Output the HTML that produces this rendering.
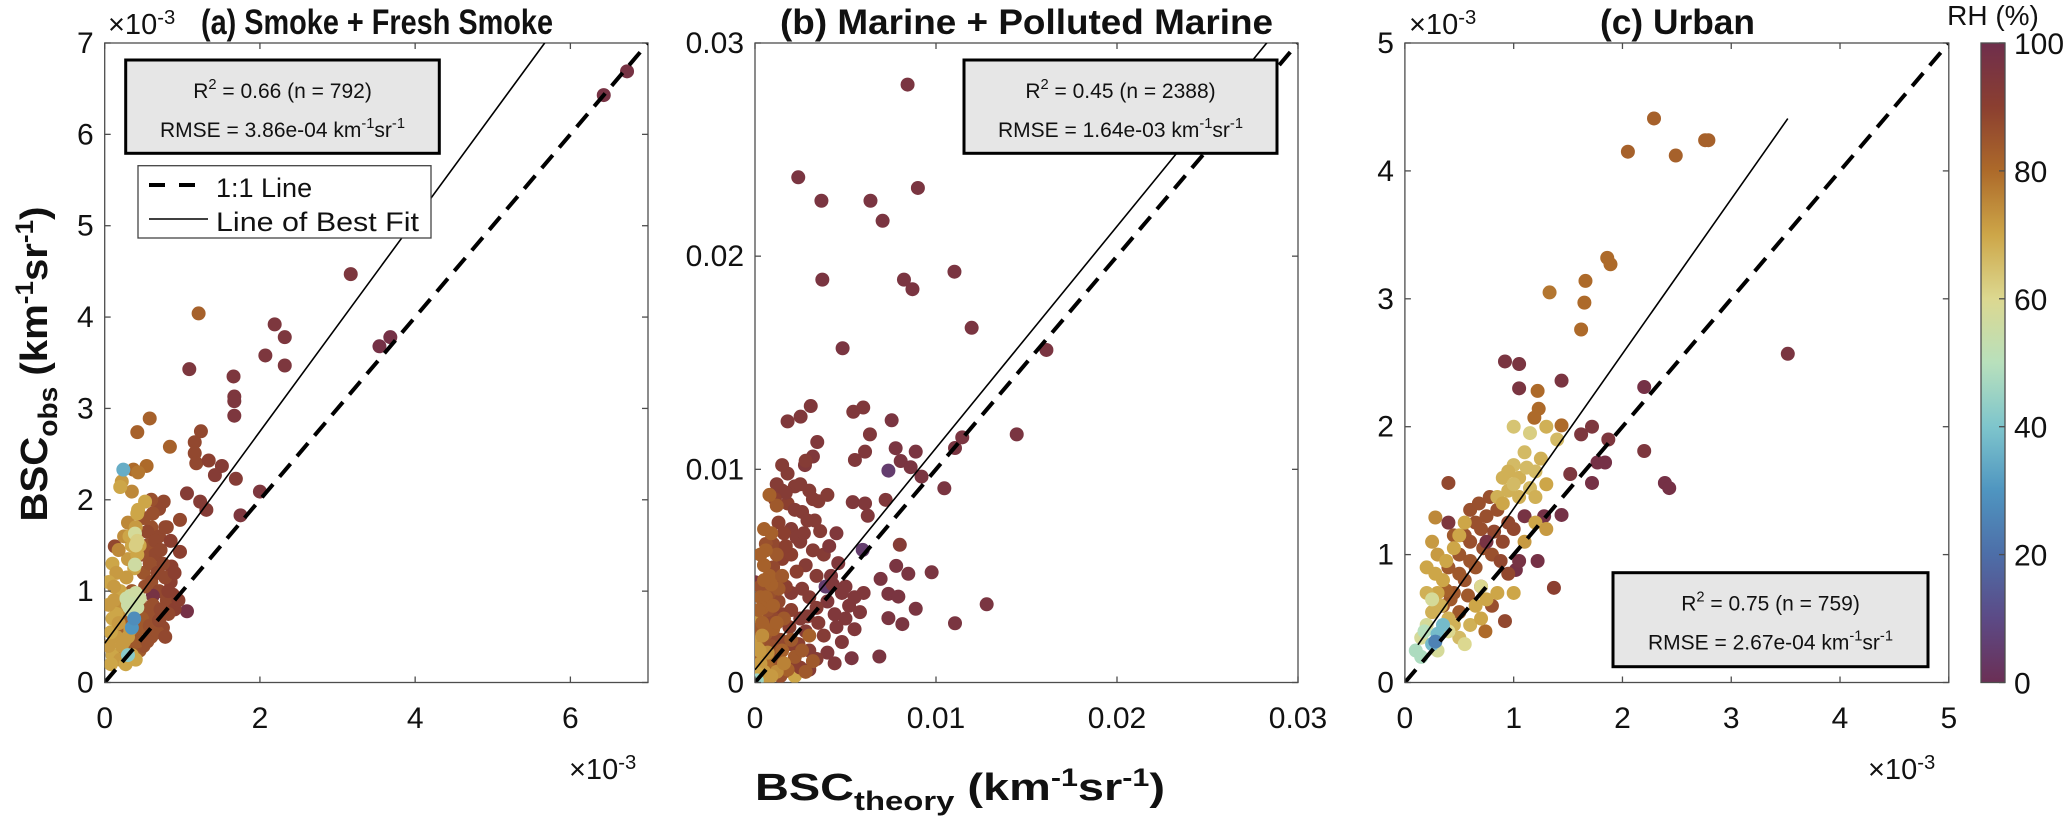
<!DOCTYPE html>
<html><head><meta charset="utf-8"><style>
html,body{margin:0;padding:0;background:#fff}
svg{display:block}
text{font-family:"Liberation Sans",sans-serif;fill:#111}
</style></head><body>
<svg id="fig" width="2067" height="820" xmlns="http://www.w3.org/2000/svg">
<defs>
<clipPath id="clipA"><rect x="104.7" y="43" width="543.3" height="639.5"/></clipPath>
<clipPath id="clipB"><rect x="755" y="43" width="543" height="639.5"/></clipPath>
<clipPath id="clipC"><rect x="1404.9" y="43" width="543.9" height="639.5"/></clipPath>
<linearGradient id="cbar" x1="0" y1="1" x2="0" y2="0"></linearGradient>
</defs>
<g id="layer"></g>
</svg>
<script>
// ---- data (x, y in units of 1e-3 km^-1 sr^-1, RH in %) ----
const smokePoints = [
[6.43,6.43,97],[6.73,6.69,97],[3.17,4.47,95],[1.21,4.04,82],[2.19,3.92,95],[2.32,3.78,95],[2.07,3.58,95],[2.32,3.47,95],
[3.54,3.68,98],[3.68,3.78,98],[1.09,3.43,95],[1.66,3.35,95],[1.67,3.13,95],[1.67,3.08,95],[1.67,2.92,95],
[0.58,2.89,82],[0.42,2.74,82],[1.24,2.75,88],[0.84,2.58,82],[1.16,2.63,88],[1.16,2.51,88],[1.18,2.40,88],
[1.34,2.43,90],[1.51,2.37,92],[1.42,2.27,92],[1.69,2.23,92],[0.37,2.33,80],[0.54,2.37,80],[0.43,2.30,78],
[2.00,2.09,95],[1.75,1.83,95],[0.13,1.49,88],[0.76,1.98,88],[0.97,1.78,88],[1.06,2.07,92],[1.23,1.98,92],
[1.31,1.89,92],[1.06,0.78,98],[0.88,0.96,90],[0.97,1.43,90],[0.86,1.27,90],
[0.5,1.8,86],[0.6,1.7,86],[0.7,1.6,88],[0.55,1.5,86],[0.65,1.4,88],[0.75,1.3,88],[0.5,1.2,85],[0.6,1.1,86],
[0.7,1.0,88],[0.8,0.9,88],[0.45,0.9,85],[0.55,0.8,86],[0.65,0.7,86],[0.75,0.6,88],[0.5,0.6,84],[0.4,0.5,84],
[0.6,0.5,86],[0.3,0.4,84],[0.45,0.35,84],[0.85,1.1,90],[0.9,0.8,90],[0.95,0.9,90],[0.7,1.9,88],[0.8,1.7,88],
[0.6,2.0,86],[0.35,1.0,84],[0.3,0.7,82],[0.2,0.6,82],[0.25,0.3,82],[0.5,0.4,86],[0.62,0.95,97],
[0.55,1.65,88],[0.65,1.55,88],[0.72,1.45,88],[0.58,1.3,86],[0.68,1.2,88],[0.78,1.15,88],[0.52,1.05,86],[0.62,0.85,86],
[0.72,0.8,88],[0.82,0.75,88],[0.48,0.7,84],[0.58,0.62,86],[0.68,0.55,86],[0.78,0.5,88],[0.42,0.45,84],[0.55,0.45,86],
[0.35,0.55,84],[0.62,1.85,86],[0.85,1.55,90],[0.9,1.2,90],[0.78,1.7,88],[0.48,1.4,86],[0.7,0.68,88],[0.82,1.0,90],
[0.1,1.3,70],[0.15,1.2,72],[0.2,1.0,70],[0.1,0.7,70],[0.15,0.5,72],[0.1,0.3,70],[0.2,0.25,72],[0.3,1.35,72],
[0.35,1.5,70],[0.25,1.6,74],[0.3,1.75,75],[0.4,1.7,72],[0.45,1.5,70],[0.38,1.25,70],[0.2,0.8,74],[0.25,0.45,72],
[0.35,0.3,70],[0.05,0.4,72],[0.08,0.55,70],[0.12,0.9,72],[0.18,1.45,75],[0.42,1.85,70],[0.35,2.09,75],[0.52,1.98,70],
[0.43,1.89,70],[0.22,2.2,72],[0.2,2.14,70],[0.4,0.25,70],[0.33,0.58,72],
[0.05,1.1,70],[0.12,1.05,72],[0.08,0.2,70],[0.15,0.75,70],[0.22,0.4,72],[0.28,1.15,72],[0.32,1.6,70],[0.18,0.65,72],
[0.05,0.85,72],[0.27,0.2,70],[0.3,0.5,72],[0.42,1.4,70],
[0.39,1.63,58],[0.39,1.29,56],[0.3,0.85,55],[0.38,0.9,55],[0.42,0.82,55],[0.35,0.78,55],[0.45,0.92,56],
[0.28,0.92,55],[0.33,0.95,55],[0.4,1.5,62],[0.42,1.55,62],[0.32,0.82,55],[0.4,0.98,56],[0.36,0.86,55],
[0.35,0.6,30],[0.38,0.7,28],[0.3,0.3,42],[0.24,2.33,35]
];
const marinePoints = [
[2.2,0.3,70],[0.4,0.6,70],[0.3,1.2,70],[0.6,0.9,72],[0.8,0.4,70],[0.2,2.0,72],[0.5,1.8,70],[0.1,0.8,70],[1.0,1.0,72],[0.3,3.0,72],[0.7,2.5,72],
[8.43,28.05,96],[2.39,23.7,96],[3.67,22.6,96],[6.38,22.6,96],[9.0,23.2,96],[7.05,21.66,96],[3.72,18.9,96],[8.23,18.9,96],
[8.7,18.45,96],[11.02,19.27,96],[11.97,16.64,96],[4.84,15.68,96],[16.1,15.6,96],[14.46,11.64,96],[3.08,12.97,94],
[1.8,12.25,94],[2.52,12.47,94],[5.43,12.7,94],[5.98,12.9,94],[7.55,12.3,96],[6.35,11.64,94],[3.44,11.28,94],
[3.2,10.6,94],[2.76,10.2,94],[6.08,10.83,94],[5.52,10.44,94],[7.77,10.99,96],[8.88,10.83,96],[8.05,10.39,96],
[7.37,9.94,5],[8.6,10.1,96],[11.05,11.0,96],[11.45,11.5,96],[10.46,9.11,96],[9.2,9.66,96],[7.22,8.57,94],
[5.4,8.46,94],[6.08,8.4,94],[6.23,7.82,94],[8.0,6.46,92],[7.8,5.47,96],[8.47,5.1,96],[9.76,5.17,96],[6.94,4.86,96],
[7.37,4.16,96],[7.92,4.03,96],[8.88,3.46,96],[12.8,3.67,96],[11.05,2.78,96],[7.37,3.02,96],[8.14,2.74,96],
[6.87,1.22,96],[5.34,1.14,96],[0.0,4.7,96],[5.95,6.22,5],
[1.5,9.0,92],[2.2,9.2,92],[3.0,9.0,92],[1.8,8.4,90],[2.6,8.0,92],[3.5,8.5,92],[4.0,8.8,92],[1.3,7.5,90],[2.0,7.2,92],
[3.3,7.6,92],[4.5,7.0,94],[1.0,6.5,88],[2.5,6.6,92],[3.8,6.0,92],[0.5,5.5,86],[1.5,5.8,90],[2.8,5.5,92],[4.2,5.0,94],
[5.0,4.5,94],[5.5,4.0,94],[0.3,4.5,86],[1.2,4.8,90],[2.0,4.2,92],[3.0,4.0,92],[4.0,3.8,94],[6.0,4.2,94],[0.5,3.5,86],
[1.5,3.2,90],[2.5,3.0,92],[3.5,2.8,92],[4.5,2.6,94],[5.5,2.5,94],[0.2,2.5,84],[1.0,2.2,88],[2.0,1.8,90],[3.0,1.5,92],
[4.0,1.4,94],[0.3,1.2,82],[1.0,1.0,86],[1.8,0.8,88],[2.5,0.7,90],[0.2,0.5,80],[0.8,0.4,84],[1.4,0.3,86],[0.5,1.8,84],
[0.8,3.0,86],[1.3,3.8,88],[0.9,5.0,88],[0.6,6.5,86],[1.8,9.8,92],[2.8,10.4,92],[1.5,10.2,92],[3.9,4.5,5],
[1.2,9.3,92],[1.7,8.9,92],[2.5,9.3,92],[3.2,8.6,92],[1.1,8.6,90],[2.2,8.1,92],[2.9,7.6,92],[1.6,7.0,90],[2.3,6.8,92],
[3.6,7.1,92],[4.1,6.4,94],[1.2,6.2,88],[2.0,6.0,90],[3.2,6.2,92],[4.6,5.6,94],[1.0,5.4,88],[2.3,5.2,90],[3.4,5.0,92],
[4.8,4.2,94],[0.8,4.2,86],[1.7,4.5,90],[2.6,4.4,92],[3.4,3.5,92],[4.4,3.2,94],[5.0,3.0,94],[1.0,3.0,88],[2.0,3.4,90],
[2.8,2.4,92],[3.8,2.2,92],[4.8,1.9,94],[0.6,2.3,84],[1.4,2.0,88],[2.4,1.8,90],[3.4,1.1,92],[4.4,0.9,94],[0.6,1.4,84],
[1.2,1.4,86],[2.2,0.9,90],[3.0,0.6,92],[0.4,0.8,82],[1.0,0.6,84],[1.6,0.5,86],[0.9,1.7,86],[5.2,3.6,94],[5.8,3.3,94],
[4.3,4.6,94],[2.9,3.1,92],[1.9,2.6,90],[0.7,3.4,86],[1.7,6.4,90],[2.7,7.0,92],
[0.3,4.0,82],[0.6,4.0,82],[0.4,3.5,82],[1.0,3.6,82],[0.8,5.0,82],[1.2,6.0,84],[0.6,6.2,82],[1.5,5.0,84],[1.0,2.5,82],
[1.6,3.0,84],[0.5,5.5,82],[1.3,4.4,84],[2.0,2.0,84],[2.2,1.2,84],[1.8,0.6,82],[1.5,1.5,82],[2.6,1.5,84],[0.9,7.0,82],
[1.2,8.3,84],[0.8,8.8,82],[3.2,1.0,84],[2.8,0.5,84],[3.0,2.2,82],
[0.3,6.0,82],[0.5,7.2,82],[0.4,2.8,82],[0.9,4.6,82],[0.2,3.4,82],[0.7,1.0,80],[1.2,2.8,82],[0.5,4.8,82],
[0.2,0.2,70],[0.5,0.5,72],[0.3,0.9,72],[0.7,1.4,74],[0.15,1.6,72],[0.4,2.2,74],[1.2,0.5,74],[1.6,0.9,76],
[0.15,0.4,70],[0.35,0.3,70],[0.6,0.25,72],[0.9,0.3,72],[0.25,1.5,72],[0.1,0.1,45]
];
const urbanPoints = [
[2.29,4.41,82],[2.76,4.24,82],[2.79,4.24,82],[2.05,4.15,82],[2.49,4.12,82],[3.52,2.57,96],[1.86,3.32,80],[1.89,3.27,80],
[1.66,3.14,80],[1.65,2.97,80],[1.33,3.05,78],[1.62,2.76,80],[0.92,2.51,96],[1.05,2.49,96],[1.44,2.36,96],[1.05,2.30,96],
[1.22,2.28,80],[2.20,2.31,98],[1.23,2.14,80],[1.19,2.07,80],[1.44,2.01,80],[1.72,2.0,95],[1.62,1.94,95],[1.87,1.90,95],
[2.20,1.81,95],[1.77,1.72,98],[1.84,1.72,98],[1.72,1.56,98],[2.39,1.56,98],[2.43,1.52,98],[1.52,1.63,95],[1.44,1.31,98],
[1.28,1.30,98],[1.22,0.95,98],[1.02,0.88,98],[1.37,0.74,90],[0.40,1.56,88],[0.28,1.29,75],[0.92,0.48,88],[0.74,0.40,80],
[0.5,1.0,85],[0.6,1.1,86],[0.7,1.2,86],[0.65,0.9,85],[0.8,1.0,86],[0.75,1.3,86],[0.55,0.8,85],[0.9,1.1,88],[0.85,1.35,86],
[0.45,0.7,84],[0.4,0.9,84],[0.7,0.75,86],[1.0,1.2,88],[0.6,1.35,86],[0.95,0.85,88],[0.5,0.55,84],[0.35,0.6,84],[0.8,0.6,86],
[0.55,1.15,86],[0.65,1.25,86],[0.72,1.05,86],[0.82,1.18,88],[0.6,0.95,85],[0.5,0.85,84],[0.42,0.65,84],[0.88,0.95,88],
[0.68,1.4,86],[0.78,1.45,86],[0.95,1.25,88],[0.58,0.68,84],[0.45,1.15,84],[0.38,0.72,82],
[0.4,1.25,95],[0.75,1.1,97],[1.05,0.95,97],[1.1,1.3,97],
[0.9,1.6,68],[1.0,1.7,66],[1.1,1.8,66],[0.95,1.5,68],[1.2,1.65,66],[0.85,1.45,68],[1.3,1.55,70],[1.05,1.45,68],[1.15,1.52,66],
[1.4,1.9,66],[1.3,2.0,68],[1.25,1.75,68],[0.55,1.25,70],[0.45,1.05,70],[0.35,0.8,70],[0.3,0.7,70],[0.25,0.55,68],[0.4,0.5,68],
[0.6,0.45,68],[0.5,0.35,66],[0.7,0.5,70],[0.2,0.9,70],[0.3,1.0,72],[1.2,1.25,70],[1.3,1.2,72],[1.0,0.7,70],[0.75,0.65,70],
[0.95,1.65,68],[1.05,1.6,68],[1.12,1.68,66],[1.0,1.55,66],[0.9,1.4,70],[1.2,1.45,68],[0.5,1.15,70],[0.38,0.95,70],
[0.28,0.85,70],[0.33,0.6,68],[0.45,0.45,68],[0.65,0.6,70],[0.85,0.7,70],[1.1,1.1,72],[0.2,0.7,68],[0.25,1.1,72],
[0.2,0.45,58],[0.15,0.35,58],[0.25,0.65,58],[0.4,0.4,60],[0.55,0.3,60],[0.3,0.25,58],[1.15,1.95,62],[1.0,2.0,64],[0.7,0.75,60],
[0.1,0.25,48],[0.15,0.2,48],[0.18,0.4,50],[0.3,0.38,38],[0.25,0.3,38],[0.35,0.45,38],[0.28,0.32,25]
];
// fit lines: [intercept, slope, xStart, xEnd]
const fitSmoke = [0.43, 1.159, 0, 5.67];
const fitMarine = [0.6, 1.04, 0, 28.3];
const fitUrban = [0.15, 1.21, 0.12, 3.52];
// ticks
const ticksSmokeX = [0,2,4,6];
const ticksSmokeY = [0,1,2,3,4,5,6,7];
const ticksMarine = [0,10,20,30];
const tickLabelsMarine = ["0","0.01","0.02","0.03"];
const ticksUrban = [0,1,2,3,4,5];
const cbarTicks = [0,20,40,60,80,100];
// colormap stops [RH, color]
const cmapStops = [[0,"#6b2f55"],[10,"#5c4a86"],[20,"#4d6ea8"],[30,"#4f95c0"],[40,"#7ec5cc"],[50,"#b8e0bc"],[60,"#dcd890"],[70,"#cda648"],[80,"#ad6a2a"],[90,"#8b3f30"],[100,"#6f2e4c"]];

const NS="http://www.w3.org/2000/svg";
const layer=document.getElementById('layer');
function mk(tag,attrs,parent){const e=document.createElementNS(NS,tag);for(const k in attrs)e.setAttribute(k,attrs[k]);(parent||layer).appendChild(e);return e;}
function hex(c){return [parseInt(c.slice(1,3),16),parseInt(c.slice(3,5),16),parseInt(c.slice(5,7),16)];}
function cmap(v){v=Math.max(0,Math.min(100,v));for(let i=0;i<cmapStops.length-1;i++){const a=cmapStops[i],b=cmapStops[i+1];if(v<=b[0]){const t=(v-a[0])/(b[0]-a[0]);const A=hex(a[1]),B=hex(b[1]);return 'rgb('+A.map((q,j)=>Math.round(q+(B[j]-q)*t)).join(',')+')';}}return cmapStops[cmapStops.length-1][1];}

const TOP=43,BOT=682.5;
function panel(id,L,R,maxV,pts,fit,xt,yt,xlab,ylab,clip){
  const g=mk('g',{});
  
  
  const sx=v=>L+(R-L)*v/maxV, sy=v=>BOT-(BOT-TOP)*v/maxV;
  const box=mk('rect',{x:L,y:TOP,width:R-L,height:BOT-TOP,fill:'#fff',stroke:'#4d4d4d','stroke-width':1.3},g);
  
  
  const dg=mk('g',{'clip-path':'url(#'+clip+')'},g);
  
  
  pts.forEach(p=>{const c=mk('circle',{cx:sx(p[0]),cy:sy(p[1]),r:7,fill:cmap(p[2])},dg);
    
    });
  const one=mk('line',{x1:sx(0),y1:sy(0),x2:sx(maxV),y2:sy(maxV),stroke:'#000','stroke-width':4,'stroke-dasharray':'17 10'},dg);
  
  
  const fl=mk('line',{x1:sx(fit[2]),y1:sy(fit[0]+fit[1]*fit[2]),x2:sx(fit[3]),y2:sy(fit[0]+fit[1]*fit[3]),stroke:'#000','stroke-width':1.6},dg);
  
  
  xt.forEach((v,i)=>{const x=sx(v);
    mk('line',{x1:x,y1:BOT,x2:x,y2:BOT-6,stroke:'#4d4d4d','stroke-width':1.3},g);
    mk('line',{x1:x,y1:TOP,x2:x,y2:TOP+6,stroke:'#4d4d4d','stroke-width':1.3},g);
    const t=mk('text',{x:x,y:728,'text-anchor':'middle','font-size':30},g);t.textContent=xlab[i];
    
    });
  yt.forEach((v,i)=>{const y=sy(v);
    mk('line',{x1:L,y1:y,x2:L+6,y2:y,stroke:'#4d4d4d','stroke-width':1.3},g);
    mk('line',{x1:R,y1:y,x2:R-6,y2:y,stroke:'#4d4d4d','stroke-width':1.3},g);
    const t=mk('text',{x:L-11,y:y+10,'text-anchor':'end','font-size':30},g);t.textContent=ylab[i];
    
    });
  return g;
}
panel('smoke',104.7,648,7,smokePoints,fitSmoke,ticksSmokeX,ticksSmokeY,ticksSmokeX.map(String),ticksSmokeY.map(String),'clipA');
panel('marine',755,1298,30,marinePoints,fitMarine,ticksMarine,ticksMarine,tickLabelsMarine,tickLabelsMarine,'clipB');
panel('urban',1404.9,1948.8,5,urbanPoints,fitUrban,ticksUrban,ticksUrban,ticksUrban.map(String),ticksUrban.map(String),'clipC');

const grad=document.getElementById('cbar');
cmapStops.forEach(s=>mk('stop',{offset:(s[0])+'%','stop-color':s[1]},grad));
const cb=mk('rect',{x:1981,y:TOP,width:24,height:BOT-TOP,fill:'url(#cbar)',stroke:'#4d4d4d','stroke-width':1.3});


cbarTicks.forEach(v=>{const y=BOT-(BOT-TOP)*v/100;
  mk('line',{x1:2005,y1:y,x2:1999,y2:y,stroke:'#4d4d4d','stroke-width':1.3});
  const t=mk('text',{x:2014,y:y+11,'font-size':30});t.textContent=String(v);
  
  });
</script>
<script>
(function(){
const NS="http://www.w3.org/2000/svg";const layer=document.getElementById('layer');
function T(html,attrs,name){const t=document.createElementNS(NS,'text');for(const k in attrs)t.setAttribute(k,attrs[k]);t.innerHTML=html;layer.appendChild(t);
  
  return t;}
function R(a,name){const r=document.createElementNS(NS,'rect');for(const k in a)r.setAttribute(k,a[k]);layer.appendChild(r);
  
  return r;}
function Lk(a){const l=document.createElementNS(NS,'line');for(const k in a)l.setAttribute(k,a[k]);layer.appendChild(l);return l;}
const sup='<tspan dy="-10" font-size="0.7em">';
T('(a) Smoke + Fresh Smoke',{x:201,y:34,'font-size':35,'font-weight':'bold',textLength:352,lengthAdjust:'spacingAndGlyphs'},'title-a');
T('(b) Marine + Polluted Marine',{x:780,y:34,'font-size':35,'font-weight':'bold',textLength:493,lengthAdjust:'spacingAndGlyphs'},'title-b');
T('(c) Urban',{x:1600,y:34,'font-size':35,'font-weight':'bold',textLength:155,lengthAdjust:'spacingAndGlyphs'},'title-c');
T('RH (%)',{x:1993,y:25,'font-size':28,'text-anchor':'middle'},'colorbar-title');
T('×10'+sup+'-3</tspan>',{x:108,y:34,'font-size':29},'exponent-a-y');
T('×10'+sup+'-3</tspan>',{x:1409,y:34,'font-size':29},'exponent-c-y');
T('×10'+sup+'-3</tspan>',{x:569,y:779,'font-size':29},'exponent-a-x');
T('×10'+sup+'-3</tspan>',{x:1868,y:779,'font-size':29},'exponent-c-x');
const sb='<tspan dy="-14" font-size="0.65em">';
T('BSC<tspan dy="10" font-size="0.7em">obs</tspan><tspan dy="-10"> (km</tspan>'+sb+'-1</tspan><tspan dy="14">sr</tspan>'+sb+'-1</tspan><tspan dy="14">)</tspan>',
  {x:0,y:0,'font-size':38,'font-weight':'bold',transform:'translate(47,364) rotate(-90)','text-anchor':'middle',textLength:315,lengthAdjust:'spacingAndGlyphs'},'y-axis-title');
T('BSC<tspan dy="10" font-size="0.7em">theory</tspan><tspan dy="-10"> (km</tspan>'+sb+'-1</tspan><tspan dy="14">sr</tspan>'+sb+'-1</tspan><tspan dy="14">)</tspan>',
  {x:755,y:800,'font-size':38,'font-weight':'bold',textLength:410,lengthAdjust:'spacingAndGlyphs'},'x-axis-title');
function stats(x,y,w,h,r2,rmse,nm){
  R({x:x,y:y,width:w,height:h,fill:'#e6e6e6',stroke:'#000','stroke-width':3},nm+'-stats-box');
  const cx=x+w/2;
  T('R'+'<tspan dy="-9" font-size="0.7em">2</tspan><tspan dy="9">'+r2+'</tspan>',{x:cx,y:y+38,'font-size':21,'text-anchor':'middle'},nm+'-r2-text');
  T('RMSE = '+rmse+' km<tspan dy="-9" font-size="0.7em">-1</tspan><tspan dy="9">sr</tspan><tspan dy="-9" font-size="0.7em">-1</tspan>',{x:cx,y:y+77,'font-size':21,'text-anchor':'middle'},nm+'-rmse-text');
}
stats(125.7,60,313.6,93.3,' = 0.66 (n = 792)','3.86e-04','smoke');
stats(964,60,313,93.3,' = 0.45 (n = 2388)','1.64e-03','marine');
stats(1613,572.7,315,94,' = 0.75 (n = 759)','2.67e-04','urban');
R({x:138,y:165.7,width:293,height:72.3,fill:'#fff',stroke:'#444','stroke-width':1.3},'legend');
Lk({x1:149,y1:185,x2:196,y2:185,stroke:'#000','stroke-width':4,'stroke-dasharray':'16 14'});
Lk({x1:149,y1:219,x2:208,y2:219,stroke:'#000','stroke-width':1.6});
T('1:1 Line',{x:216,y:197,'font-size':27},'legend-entry-one-to-one');
T('Line of Best Fit',{x:216,y:231,'font-size':27,textLength:203,lengthAdjust:'spacingAndGlyphs'},'legend-entry-best-fit');
})();
</script>
</body></html>
